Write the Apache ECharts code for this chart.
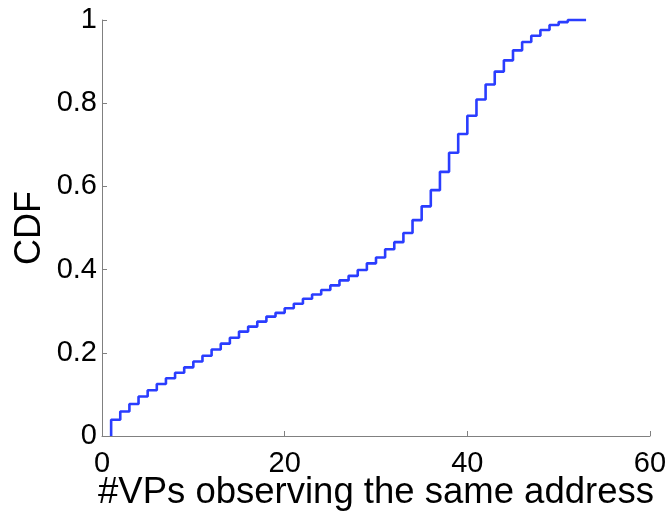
<!DOCTYPE html>
<html>
<head>
<meta charset="utf-8">
<script src="https://cdn.jsdelivr.net/npm/echarts@6/dist/echarts.min.js"></script>
<style>
html,body{margin:0;padding:0;background:#fff;}
#chart{width:667px;height:513px;}
</style>
</head>
<body>
<div id="chart"></div>
<script>
var vps = [1,2,3,4,5,6,7,8,9,10,11,12,13,14,15,16,17,18,19,20,21,22,23,24,25,26,27,28,29,30,31,32,33,34,35,36,37,38,39,40,41,42,43,44,45,46,47,48,49,50,51,52,53];
var cdf = [0.039,0.059,0.077,0.095,0.110,0.125,0.139,0.152,0.165,0.179,
           0.193,0.208,0.222,0.236,0.251,0.263,0.275,0.287,0.296,0.307,
           0.318,0.330,0.340,0.351,0.362,0.374,0.385,0.399,0.415,0.429,
           0.449,0.466,0.488,0.519,0.552,0.591,0.635,0.681,0.726,0.770,
           0.809,0.845,0.876,0.903,0.927,0.947,0.962,0.976,0.988,0.995,
           1.0,1.0,1.0];
var xTicks = [0,20,40,60];
var yTicks = [0,0.2,0.4,0.6,0.8,1];
var xName = '#VPs observing the same address';
var yName = 'CDF';

var pts = [[vps[0], 0]];
for (var i = 0; i < vps.length; i++) pts.push([vps[i], cdf[i]]);

var font = 'Liberation Sans, Arial, Helvetica, sans-serif';
var chart = echarts.init(document.getElementById('chart'), null, {renderer:'canvas'});
chart.setOption({
  animation: false,
  backgroundColor: '#ffffff',
  grid: {left: 102, right: 17, top: 20, bottom: 77, containLabel: false, outerBoundsMode: 'none'},
  xAxis: {
    type: 'value', min: 0, max: 60, interval: 20,
    name: xName, nameLocation: 'middle', nameGap: 38, nameMoveOverlap: false,
    nameTextStyle: {fontFamily: font, fontSize: 36.5, color: '#000'},
    axisLine: {show: true, lineStyle: {color: '#808080', width: 1}},
    axisTick: {show: true, inside: true, length: 5, lineStyle: {color: '#808080'}},
    axisLabel: {fontFamily: font, fontSize: 29, color: '#000', margin: 13,
      formatter: function(v){ return xTicks.indexOf(v) >= 0 ? String(v) : ''; }},
    splitLine: {show: false}
  },
  yAxis: {
    type: 'value', min: 0, max: 1, interval: 0.2,
    name: yName, nameLocation: 'middle', nameGap: 54, nameRotate: 90, nameMoveOverlap: false,
    nameTextStyle: {fontFamily: font, fontSize: 36, color: '#000'},
    axisLine: {show: true, lineStyle: {color: '#808080', width: 1}},
    axisTick: {show: true, inside: true, length: 5, lineStyle: {color: '#808080'}},
    axisLabel: {fontFamily: font, fontSize: 29, color: '#000', margin: 5,
      formatter: function(v){
        for (var k = 0; k < yTicks.length; k++) if (Math.abs(yTicks[k]-v) < 1e-9) return String(yTicks[k]);
        return '';
      }},
    splitLine: {show: false}
  },
  series: [{
    type: 'line', step: 'end', data: pts, showSymbol: false, symbol: 'none',
    lineStyle: {color: '#2a3dff', width: 2.6}, clip: false
  }]
});
</script>
</body>
</html>
